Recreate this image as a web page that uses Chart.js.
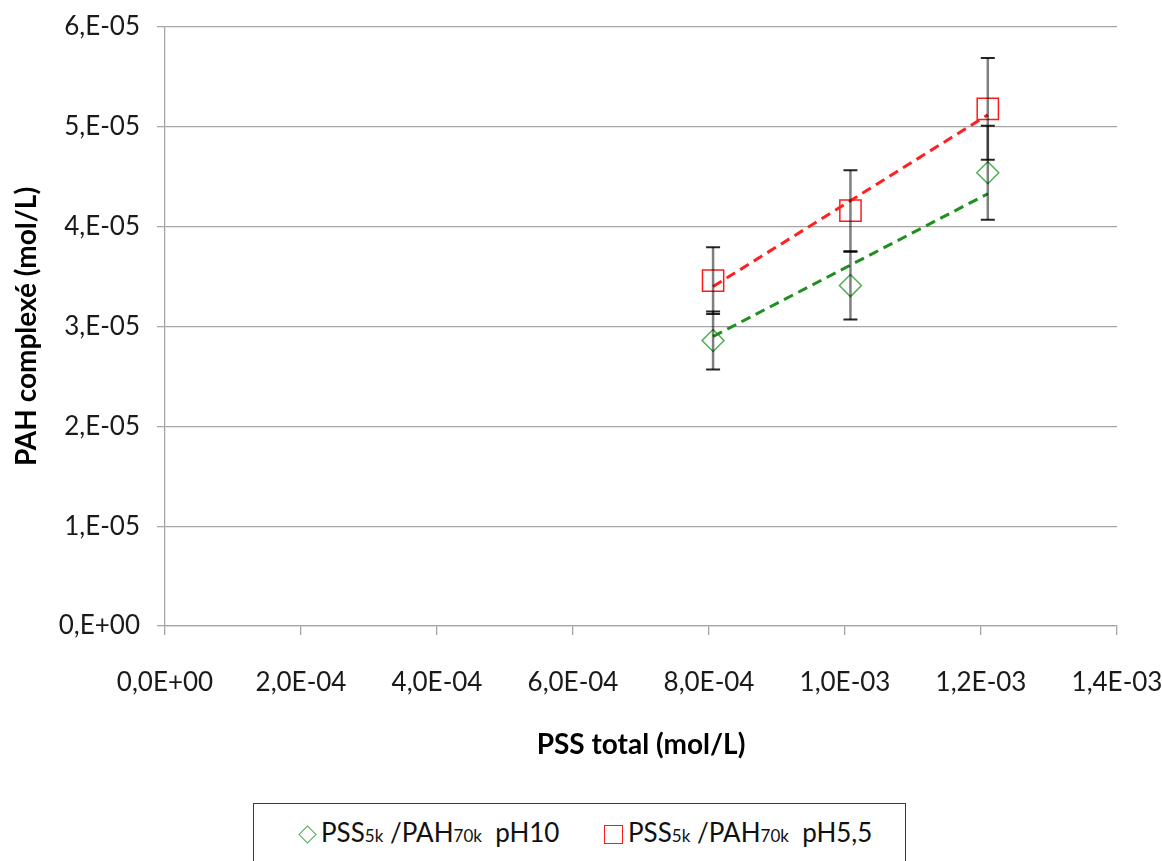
<!DOCTYPE html>
<html>
<head>
<meta charset="utf-8">
<title>PAH complexé en fonction de PSS total</title>
<script src="https://cdn.jsdelivr.net/npm/chart.js@4.4.1/dist/chart.umd.min.js"></script>
<style>
  html, body { margin: 0; padding: 0; background: #fff; overflow: hidden; }
  .wrap { position: relative; width: 1162px; height: 861px; }
  #chart { position: absolute; left: 0; top: 0; }
  .legend {
    position: absolute; left: 253px; top: 803px; width: 653px; height: 80px;
    box-sizing: border-box; border: 1.5px solid #3a3a3a; background: #fff;
    font-family: Lato, "Open Sans", sans-serif; font-size: 26px; color: #111;
  }
  .legend .item { position: absolute; top: 13px; white-space: nowrap; line-height: 30px; }
  .legend sub { font-size: 17px; vertical-align: baseline; }
  .mark { display: inline-block; box-sizing: border-box; margin-right: 5px; vertical-align: -2px; }
  .mark.diamond { width: 13px; height: 13px; border: 1.5px solid #4caf50; transform: rotate(45deg); margin-left: 2px; margin-right: 7px; vertical-align: 1px; }
  .mark.square { width: 19px; height: 19px; border: 1.5px solid #ff1a1a; }
</style>
</head>
<body>
<div class="wrap">
  <canvas id="chart" width="1162" height="861"></canvas>
  <div class="legend">
    <div class="item" style="left: 45px;"><span class="mark diamond"></span>PSS<sub>5k</sub> /PAH<sub>70k</sub>&nbsp; pH10</div>
    <div class="item" style="left: 350px;"><span class="mark square"></span>PSS<sub>5k</sub> /PAH<sub>70k</sub>&nbsp; pH5,5</div>
  </div>
</div>
<script>
// PSS total (mol/L), same for both series
const pssTotal = [8.06e-4, 1.008e-3, 1.21e-3];

// PAH complexé (mol/L) and error bar half-heights
const ph10Values = [2.86e-5, 3.41e-5, 4.54e-5];
const ph10Errors = [2.9e-6, 3.4e-6, 4.7e-6];
const ph55Values = [3.46e-5, 4.16e-5, 5.18e-5];
const ph55Errors = [3.35e-6, 4.05e-6, 5.1e-6];

// trendlines (through origin), read at first and last PSS value
const trendX = [8.06e-4, 1.21e-3];
const ph10Trend = [2.90e-5, 4.33e-5];
const ph55Trend = [3.40e-5, 5.12e-5];

const xTickLabels = ['0,0E+00', '2,0E-04', '4,0E-04', '6,0E-04', '8,0E-04', '1,0E-03', '1,2E-03', '1,4E-03'];
const yTickLabels = ['0,E+00', '1,E-05', '2,E-05', '3,E-05', '4,E-05', '5,E-05', '6,E-05'];

const FONT = 'Lato, "Open Sans", sans-serif';
const GRID = '#a6a6a6';

function toPoints(xs, ys) {
  return xs.map((x, i) => ({ x: x, y: ys[i] }));
}

// error bars drawn through the chart's own scales
const errorBars = {
  id: 'errorBars',
  afterDatasetsDraw(chart) {
    const ctx = chart.ctx;
    const xs = chart.scales.x;
    const ys = chart.scales.y;
    const sets = [[ph10Values, ph10Errors], [ph55Values, ph55Errors]];
    ctx.save();
    sets.forEach(([vals, errs]) => {
      vals.forEach((v, i) => {
        const px = xs.getPixelForValue(pssTotal[i]);
        const top = ys.getPixelForValue(v + errs[i]);
        const bot = ys.getPixelForValue(v - errs[i]);
        ctx.strokeStyle = 'rgba(0,0,0,0.5)';
        ctx.lineWidth = 2.5;
        ctx.beginPath();
        ctx.moveTo(px, top);
        ctx.lineTo(px, bot);
        ctx.stroke();
        ctx.strokeStyle = 'rgba(0,0,0,0.85)';
        ctx.lineWidth = 2;
        ctx.beginPath();
        ctx.moveTo(px - 7, top); ctx.lineTo(px + 7, top);
        ctx.moveTo(px - 7, bot); ctx.lineTo(px + 7, bot);
        ctx.stroke();
      });
    });
    ctx.restore();
  }
};

new Chart(document.getElementById('chart'), {
  type: 'scatter',
  data: {
    datasets: [
      {
        label: 'trend pH10',
        data: toPoints(trendX, ph10Trend),
        showLine: true,
        borderColor: '#1f8f1f',
        borderWidth: 3,
        borderDash: [10, 6],
        pointRadius: 0
      },
      {
        label: 'trend pH5,5',
        data: toPoints(trendX, ph55Trend),
        showLine: true,
        borderColor: '#ff2020',
        borderWidth: 3,
        borderDash: [10, 6],
        pointRadius: 0
      },
      {
        label: 'PSS5k /PAH70k pH10',
        data: toPoints(pssTotal, ph10Values),
        pointStyle: 'rectRot',
        pointRadius: 11,
        pointBorderColor: '#4caf50',
        pointBackgroundColor: 'rgba(0,0,0,0)',
        pointBorderWidth: 1.5
      },
      {
        label: 'PSS5k /PAH70k pH5,5',
        data: toPoints(pssTotal, ph55Values),
        pointStyle: 'rect',
        pointRadius: 15,
        pointBorderColor: '#ff1a1a',
        pointBackgroundColor: 'rgba(0,0,0,0)',
        pointBorderWidth: 1.5
      }
    ]
  },
  options: {
    responsive: false,
    animation: false,
    layout: { padding: { top: 27, right: 45, bottom: 0, left: 0 } },
    plugins: {
      legend: { display: false },
      tooltip: { enabled: false }
    },
    scales: {
      x: {
        type: 'linear',
        min: 0,
        max: 1.4e-3,
        afterFit: function(scale) {
          scale.height = 235;
          scale.paddingLeft = 0;
          scale.paddingRight = 0;
        },
        ticks: {
          stepSize: 2e-4,
          autoSkip: false,
          maxRotation: 0,
          padding: 32,
          color: '#1a1a1a',
          font: { family: FONT, size: 26 },
          callback: function(value, index) { return xTickLabels[index]; }
        },
        grid: { drawOnChartArea: false, color: GRID, lineWidth: 1.3, tickLength: 9 },
        border: { color: GRID, width: 1.3 },
        title: {
          display: true,
          text: 'PSS total (mol/L)',
          color: '#000',
          font: { family: FONT, size: 28, weight: 'bold' },
          padding: { top: 0, bottom: 99 }
        }
      },
      y: {
        min: 0,
        max: 6e-5,
        afterFit: function(scale) {
          scale.width = 165;
          scale.paddingTop = 0;
          scale.paddingBottom = 0;
        },
        ticks: {
          stepSize: 1e-5,
          padding: 17,
          color: '#1a1a1a',
          font: { family: FONT, size: 26 },
          callback: function(value, index) { return yTickLabels[index]; }
        },
        grid: { color: GRID, lineWidth: 1.3, tickLength: 8 },
        border: { color: GRID, width: 1.3 },
        title: {
          display: true,
          text: 'PAH complexé (mol/L)',
          color: '#000',
          font: { family: FONT, size: 28, weight: 'bold' },
          padding: { top: 10, bottom: 0 }
        }
      }
    }
  },
  plugins: [errorBars]
});
</script>
</body>
</html>
